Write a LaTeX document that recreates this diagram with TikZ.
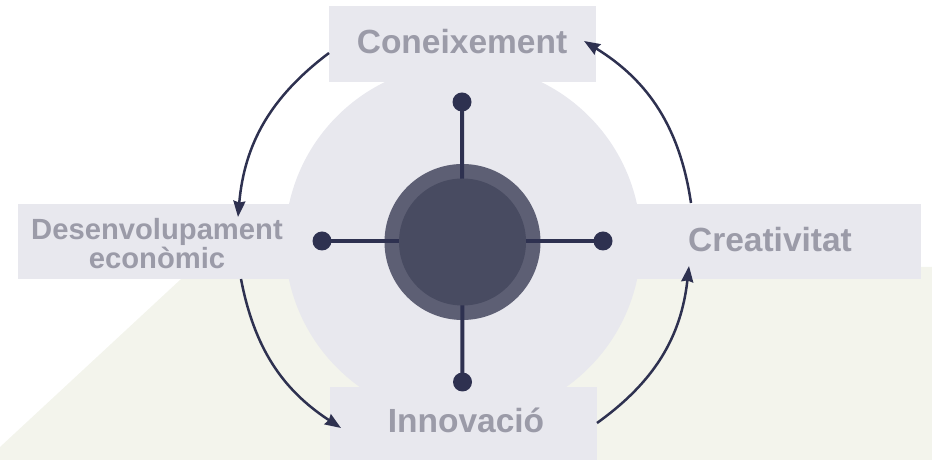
\documentclass[tikz,border=0pt]{standalone}
\usepackage{fontspec}
\setmainfont{Liberation Sans}
\usetikzlibrary{arrows.meta}
\definecolor{bgc}{RGB}{243,244,236}
\definecolor{boxc}{RGB}{232,232,238}
\definecolor{txtc}{RGB}{155,155,168}
\definecolor{navy}{RGB}{46,49,80}
\definecolor{ringc}{RGB}{93,95,116}
\definecolor{corec}{RGB}{72,75,97}
\begin{document}
\begin{tikzpicture}[x=1pt,y=1pt,
  lbl/.style={font=\bfseries\fontsize{33.5}{36}\selectfont, text=txtc, inner sep=0pt},
  lblsmall/.style={font=\bfseries\fontsize{29.2}{29}\selectfont, text=txtc, inner sep=0pt, align=center},
  panel/.style={fill=boxc, draw=none, inner sep=0pt, rectangle},
  arr/.style={navy, line width=2.5pt, -{Stealth[length=16pt,width=12pt,inset=1.5pt]}},
  spoke/.style={navy, line width=4pt},
  dotc/.style={circle, fill=navy, minimum size=19pt, inner sep=0pt}]
\useasboundingbox (0,0) rectangle (932,460);
% background
\fill[bgc] (194,193) -- (932,193) -- (932,0) -- (0,0) -- (0,13) -- cycle;
% halo circle
\node[circle, fill=boxc, minimum size=356pt, inner sep=0pt] (halo) at (463,218) {};
% panels
\node[panel, minimum width=267pt, minimum height=76pt] (conb) at (462.5,416) {};
\node[panel, minimum width=282pt, minimum height=75pt] (desb) at (159,218.5) {};
\node[panel, minimum width=303pt, minimum height=75pt] (creb) at (769.5,218.5) {};
\node[panel, minimum width=267pt, minimum height=78pt] (innb) at (463.5,34) {};
% labels
\node[lbl] (con) at (462,418) {Coneixement};
\node[lblsmall] (des) at (157,216) {Desenvolupament\\econòmic};
\node[lbl] (cre) at (770,220) {Creativitat};
\node[lbl] (inn) at (466,40) {Innovació};
% arrow end points
\coordinate (a1s) at (329,407);
\coordinate (a1e) at (238,243);
\coordinate (a2s) at (241,181);
\coordinate (a2e) at (341,32);
\coordinate (a3s) at (597,37);
\coordinate (a3e) at (689,194);
\coordinate (a4s) at (691,257);
\coordinate (a4e) at (584,419);
\draw[arr] (a1s) to[bend right=24] (a1e);
\draw[arr] (a2s) to[bend right=23] (a2e);
\draw[arr] (a3s) to[bend right=24] (a3e);
\draw[arr] (a4s) to[bend right=25] (a4e);
% hub
\node[circle, fill=ringc, minimum size=156pt, inner sep=0pt] (ring) at (462.5,218) {};
\node[dotc] (dtop) at (462,358) {};
\node[dotc] (dbot) at (462.5,78) {};
\node[dotc] (dleft) at (322,219) {};
\node[dotc] (dright) at (603,219) {};
\draw[spoke] (dtop.center) -- (dbot.center);
\draw[spoke] (dleft.center) -- (dright.center);
\node[circle, fill=corec, minimum size=127pt, inner sep=0pt] (core) at (462.5,218) {};
\end{tikzpicture}
\end{document}
